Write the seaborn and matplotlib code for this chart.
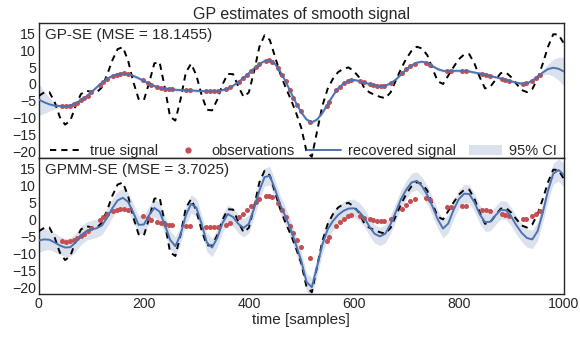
import numpy as np
import matplotlib
matplotlib.use("Agg")
import matplotlib.pyplot as plt
import seaborn as sns
from matplotlib.lines import Line2D
from matplotlib.patches import Patch

# ---------------- data ----------------
t = np.arange(0, 1001, 10)  # sample positions of the curves

true_signal = [
    -3.5, -2.5, -2.4, -5.3, -9.8, -12.0, -10.8, -6.5, -3.0, -2.0,
    -2.3, -2.5, -1.0, 2.7, 7.0, 10.3, 10.9, 6.9, 0.6, -4.4,
    -4.8, 0.3, 6.1, 6.5, -1.1, -9.7, -10.8, -4.5, 3.4, 6.0,
    2.6, -3.2, -7.6, -7.8, -4.6, -0.1, 3.0, 2.9, -0.7, -3.8,
    -2.5, 3.7, 10.9, 14.4, 13.0, 8.0, 3.0, -1.0, -4.5, -8.5,
    -13.0, -20.0, -21.5, -14.0, -6.5, -1.5, 1.5, 3.5, 4.5, 4.9,
    3.8, 2.0, -1.2, -2.5, -3.2, -3.8, -4.2, -2.5, 1.0, 4.5,
    7.5, 9.8, 11.0, 10.5, 8.5, 4.5, 0.8, 0.0, 2.5, 5.0,
    7.3, 8.7, 8.8, 6.0, 2.0, -1.3, -0.8, 1.2, 3.2, 3.4,
    2.0, 0.0, -1.8, -2.4, -1.5, 1.5, 6.0, 11.0, 14.7, 14.6,
    12.0,
]

gp_mean = [
    -4.6, -5.4, -6.0, -6.4, -6.5, -6.6, -6.3, -5.7, -4.8, -3.7,
    -2.4, -1.0, 0.4, 1.5, 2.4, 2.9, 3.1, 2.9, 2.4, 1.7,
    0.9, 0.1, -0.6, -1.1, -1.4, -1.6, -1.7, -1.8, -1.9, -1.9,
    -2.0, -2.1, -2.1, -2.2, -2.1, -1.8, -1.3, -0.5, 0.6, 1.8,
    3.2, 4.6, 5.9, 6.8, 7.0, 5.9, 3.6, 0.8, -2.5, -5.6,
    -8.4, -10.5, -11.3, -10.5, -8.6, -6.0, -3.5, -1.3, 0.1, 1.0,
    1.2, 0.9, 0.4, 0.0, -0.4, -0.6, -0.5, 0.2, 1.3, 2.8,
    4.3, 5.5, 6.3, 6.6, 6.2, 5.3, 4.4, 3.9, 3.8, 3.9,
    3.9, 3.9, 3.7, 3.4, 3.1, 2.8, 2.4, 2.0, 1.6, 1.2,
    0.8, 0.4, 0.1, 0.2, 1.0, 2.2, 3.4, 4.4, 4.8, 4.5,
    3.7,
]

gp_ci = [
    4.7, 3.3, 2.0, 1.0, 0.5, 0.4, 0.4, 0.4, 0.4, 0.4,
    0.4, 0.5, 0.4, 0.4, 0.4, 0.4, 0.4, 0.4, 0.5, 0.5,
    0.4, 0.4, 0.4, 0.4, 0.4, 0.4, 0.5, 0.5, 0.4, 0.4,
    0.5, 0.5, 0.4, 0.4, 0.4, 0.4, 0.4, 0.5, 0.4, 0.4,
    0.4, 0.4, 0.4, 0.4, 0.4, 0.4, 0.4, 0.4, 0.4, 0.4,
    0.4, 0.5, 0.4, 0.5, 0.5, 0.4, 0.4, 0.4, 0.4, 0.4,
    0.4, 0.4, 0.4, 0.4, 0.4, 0.4, 0.4, 0.5, 0.5, 0.4,
    0.4, 0.4, 0.4, 0.4, 0.4, 0.5, 0.5, 0.4, 0.4, 0.4,
    0.4, 0.4, 0.5, 0.4, 0.4, 0.4, 0.4, 0.4, 0.4, 0.4,
    0.4, 0.5, 0.4, 0.4, 0.4, 0.5, 0.7, 1.5, 2.5, 3.4,
    4.2,
]

gpmm_mean = [
    -6.2, -5.9, -6.0, -6.8, -7.7, -8.3, -8.2, -6.8, -4.8, -3.5,
    -3.0, -2.6, -1.8, 0.5, 3.3, 5.6, 6.4, 5.2, 2.0, -1.6,
    -1.5, 1.3, 3.4, 2.3, -1.6, -6.0, -7.9, -4.5, 1.2, 4.6,
    3.5, -1.3, -6.8, -8.3, -5.4, -1.0, 1.6, 0.7, -1.3, -2.5,
    -1.3, 3.2, 8.5, 12.5, 12.9, 8.9, 4.3, 0.8, -3.0, -7.5,
    -12.3, -18.5, -20.0, -14.0, -7.5, -3.0, -0.5, 1.3, 2.5, 3.2,
    3.3, 2.3, 0.5, -2.2, -4.3, -5.0, -4.2, -1.4, 2.2, 6.0,
    8.8, 10.9, 11.4, 9.8, 7.2, 3.8, 0.0, -2.7, -1.2, 2.8,
    6.0, 7.6, 7.5, 5.0, 1.5, -0.8, -0.7, 1.2, 2.8, 2.7,
    0.8, -1.8, -4.0, -5.5, -5.9, -3.5, 2.0, 8.5, 13.5, 14.6,
    13.2,
]

gpmm_ci = [
    3.6, 3.2, 2.9, 2.8, 2.7, 2.7, 2.7, 2.7, 2.7, 2.7,
    2.7, 2.7, 2.7, 2.7, 2.7, 2.7, 2.7, 2.7, 2.7, 2.7,
    2.7, 2.7, 2.7, 2.7, 2.7, 2.7, 2.7, 2.7, 2.7, 2.7,
    2.7, 2.7, 2.7, 2.7, 2.7, 2.7, 2.7, 2.7, 2.7, 2.7,
    2.7, 2.7, 2.7, 2.7, 2.7, 2.7, 2.7, 2.7, 2.7, 2.7,
    2.7, 2.7, 2.7, 2.7, 2.7, 2.7, 2.7, 2.7, 2.7, 2.7,
    2.7, 2.7, 2.7, 2.7, 2.7, 2.7, 2.7, 2.7, 2.7, 2.7,
    2.7, 2.7, 2.7, 2.7, 2.7, 2.7, 2.7, 2.7, 2.7, 2.7,
    2.7, 2.7, 2.7, 2.7, 2.7, 2.7, 2.7, 2.7, 2.7, 2.7,
    2.7, 2.7, 2.7, 2.7, 2.7, 2.8, 2.9, 3.0, 3.1, 3.3,
    3.5,
]

obs_x = [45, 52, 59, 66, 73, 80, 86, 93, 100, 116, 123, 130, 141, 148, 155,
         162, 170, 198, 207, 214, 226, 233, 240, 247, 254, 281, 288, 318, 326,
         334, 342, 356, 364, 381, 389, 397, 405, 413, 420, 432, 438, 445, 455,
         463, 470, 478, 485, 492, 499, 517, 548, 553, 567, 574, 581, 588, 595,
         611, 619, 630, 637, 644, 651, 658, 670, 692, 700, 708, 716, 738, 746,
         777, 785, 806, 813, 845, 852, 860, 882, 889, 896, 923, 929, 940, 947,
         954]
obs_y = [-6.5, -6.6, -6.4, -6.0, -5.5, -4.8, -4.2, -3.4, -2.4, -0.2, 0.7, 1.5,
         2.4, 2.8, 3.0, 3.1, 2.9, 1.1, 0.3, -0.2, -0.9, -1.2, -1.4, -1.5, -1.6,
         -1.9, -1.9, -2.1, -2.2, -2.2, -2.1, -1.5, -1.0, 0.7, 1.7, 2.8, 3.9,
         5.0, 5.9, 6.9, 7.0, 6.6, 4.8, 2.8, 0.8, -1.8, -4.0, -6.2, -8.1, -11.3,
         -6.5, -5.3, -1.9, -0.8, 0.2, 0.9, 1.2, 0.9, 0.5, 0.0, -0.3, -0.5,
         -0.6, -0.5, 0.2, 3.1, 4.3, 5.3, 6.0, 6.3, 5.7, 3.8, 3.8, 3.9, 3.9,
         2.9, 2.7, 2.4, 1.5, 1.2, 1.0, 0.1, 0.2, 1.0, 1.7, 2.6]

panel_labels = ["GP-SE (MSE = 18.1455)", "GPMM-SE (MSE = 3.7025)"]
legend_labels = ["true signal", "observations", "recovered signal", "95% CI"]
title = "GP estimates of smooth signal"
xlabel = "time [samples]"
yticks = [-20, -15, -10, -5, 0, 5, 10, 15]
xticks = [0, 200, 400, 600, 800, 1000]

# ---------------- styling ----------------
sns.set_style("white")
plt.rcParams["font.family"] = ["Liberation Sans", "DejaVu Sans"]
plt.rcParams["axes.edgecolor"] = "#262626"

blue = "#4C72B0"
red = "#C44E52"
fill_c = "#dbe2ee"

fig, axes = plt.subplots(2, 1, figsize=(5.8, 3.39), dpi=100, sharex=True)
fig.subplots_adjust(left=0.067, right=0.972, top=0.932, bottom=0.133, hspace=0)

t_arr = np.asarray(t)
means = [gp_mean, gpmm_mean]
cis = [gp_ci, gpmm_ci]
dash = (0, (3.2, 2.6))

for i, ax in enumerate(axes):
    m = np.asarray(means[i])
    c = np.asarray(cis[i])
    ax.fill_between(t_arr, m - c, m + c, color=fill_c, lw=0, zorder=1)
    sns.lineplot(x=t_arr, y=true_signal, ax=ax, color="black", lw=1.4,
                 linestyle=dash, zorder=3)
    sns.scatterplot(x=obs_x, y=obs_y, ax=ax, color=red, s=13, linewidth=0,
                    zorder=4)
    sns.lineplot(x=t_arr, y=m, ax=ax, color=blue, lw=1.4, zorder=5)
    ax.set_xlim(0, 1000)
    ax.set_ylim(-22, 18)
    ax.set_yticks(yticks)
    ax.tick_params(axis="both", labelsize=10.2, length=0, pad=2)
    ax.text(0.012, 0.965, panel_labels[i], transform=ax.transAxes,
            ha="left", va="top", fontsize=11)
    for s in ax.spines.values():
        s.set_linewidth(1.0)

axes[0].set_title(title, fontsize=11.5, pad=3)
axes[1].set_xticks(xticks)
axes[1].set_xlabel(xlabel, fontsize=11, labelpad=2)
axes[0].tick_params(axis="x", labelbottom=False)

handles = [
    Line2D([], [], color="black", lw=1.4, linestyle=dash),
    Line2D([], [], color=red, marker="o", markersize=3.5, lw=0),
    Line2D([], [], color=blue, lw=1.4),
    Patch(facecolor=fill_c, edgecolor="none"),
]
leg = axes[0].legend(handles, legend_labels, loc="lower left", ncol=4,
                     bbox_to_anchor=(0.012, -0.03), frameon=False,
                     fontsize=10.5, handlelength=2.3, handletextpad=0.5,
                     columnspacing=0.85, borderaxespad=0.1, borderpad=0.2)

fig.savefig("out.png", dpi=100)
